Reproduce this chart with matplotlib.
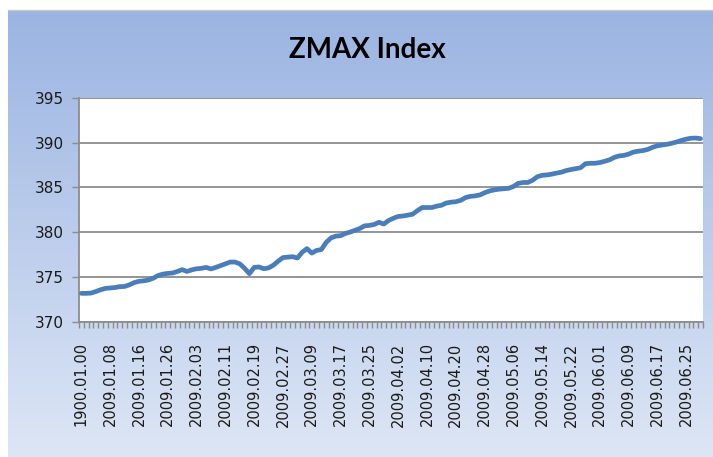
import matplotlib
matplotlib.use("Agg")
import matplotlib.pyplot as plt
import numpy as np
from matplotlib.colors import LinearSegmentedColormap

# ZMAX index, one value per trading day (first row has an empty date)
zmax = [
    373.15, 373.15, 373.18, 373.35, 373.55, 373.70, 373.75, 373.80, 373.90, 373.92,
    374.10, 374.35, 374.50, 374.55, 374.65, 374.85, 375.15, 375.30, 375.38, 375.42,
    375.60, 375.80, 375.60, 375.78, 375.90, 375.95, 376.05, 375.88, 376.05, 376.25,
    376.45, 376.65, 376.65, 376.45, 375.95, 375.35, 376.05, 376.10, 375.90, 376.00,
    376.30, 376.75, 377.15, 377.20, 377.25, 377.10, 377.75, 378.15, 377.65, 377.95,
    378.05, 378.85, 379.35, 379.55, 379.60, 379.85, 380.00, 380.20, 380.40, 380.70,
    380.75, 380.85, 381.10, 380.90, 381.30, 381.55, 381.75, 381.80, 381.90, 382.00,
    382.40, 382.75, 382.75, 382.75, 382.90, 383.00, 383.25, 383.35, 383.40, 383.55,
    383.85, 384.00, 384.05, 384.15, 384.40, 384.60, 384.72, 384.80, 384.85, 384.90,
    385.10, 385.45, 385.55, 385.55, 385.80, 386.20, 386.35, 386.40, 386.48, 386.60,
    386.70, 386.88, 387.00, 387.10, 387.20, 387.65, 387.70, 387.70, 387.78, 387.92,
    388.08, 388.35, 388.52, 388.58, 388.72, 388.95, 389.05, 389.12, 389.25, 389.48,
    389.66, 389.74, 389.82, 389.94, 390.08, 390.25, 390.40, 390.50, 390.52, 390.45,
]

# every sixth category carries a label
date_labels = [
    "1900.01.00", "2009.01.08", "2009.01.16", "2009.01.26", "2009.02.03",
    "2009.02.11", "2009.02.19", "2009.02.27", "2009.03.09", "2009.03.17",
    "2009.03.25", "2009.04.02", "2009.04.10", "2009.04.20", "2009.04.28",
    "2009.05.06", "2009.05.14", "2009.05.22", "2009.06.01", "2009.06.09",
    "2009.06.17", "2009.06.25",
]
label_step = 6

y_ticks = [370, 375, 380, 385, 390, 395]

W, H = 713, 457
fig = plt.figure(figsize=(W / 100, H / 100), dpi=100, facecolor="white")

# chart area with vertical blue gradient
bg = fig.add_axes([8 / W, 0, 1 - 8 / W, 1 - 10 / H])
bg.axis("off")
cmap = LinearSegmentedColormap.from_list("xlbg", ["#9bb4e2", "#dde6f5"])
bg.imshow(np.linspace(0, 1, 256).reshape(-1, 1), aspect="auto", cmap=cmap,
          extent=[0, 1, 0, 1])
fig.add_artist(plt.Line2D([8 / W, 1], [1 - 10 / H, 1 - 10 / H],
                          color="#c8c8c8", lw=1))

ax = fig.add_axes([79 / W, 1 - 321.5 / H, 624 / W, 223.5 / H])
ax.set_facecolor("white")

x = np.arange(len(zmax))
ax.plot(x, zmax, color="#4a7ebb", lw=3.4, solid_capstyle="round",
        solid_joinstyle="round", zorder=3)

ax.set_xlim(-0.5, len(zmax) - 0.5)
ax.set_ylim(370, 395)
ax.set_yticks(y_ticks)
ax.set_yticklabels([str(v) for v in y_ticks], fontsize=11, color="#1a1a1a")
ax.yaxis.grid(True, color="#8c8c8c", lw=1.3)
ax.set_axisbelow(True)

ax.set_xticks(x[::label_step])
ax.set_xticklabels(date_labels, rotation=90, fontsize=10.5, color="#1a1a1a")
ax.set_xticks(np.arange(-0.5, len(zmax), 1), minor=True)
ax.tick_params(axis="x", which="major", length=0, pad=15)
ax.tick_params(axis="x", which="minor", length=4, color="#8c8c8c", width=1)
ax.tick_params(axis="y", length=5, color="#8c8c8c", width=1, pad=6)

for side in ["top", "right"]:
    ax.spines[side].set_visible(False)
for side in ["left", "bottom"]:
    ax.spines[side].set_color("#8c8c8c")
    ax.spines[side].set_linewidth(1.3)

fig.text(367 / W, 1 - 50 / H, "ZMAX Index", ha="center", va="center",
         fontsize=20, fontweight="bold", color="black",
         family=["Lato", "DejaVu Sans"])

fig.savefig("out.png", dpi=100, facecolor="white")
